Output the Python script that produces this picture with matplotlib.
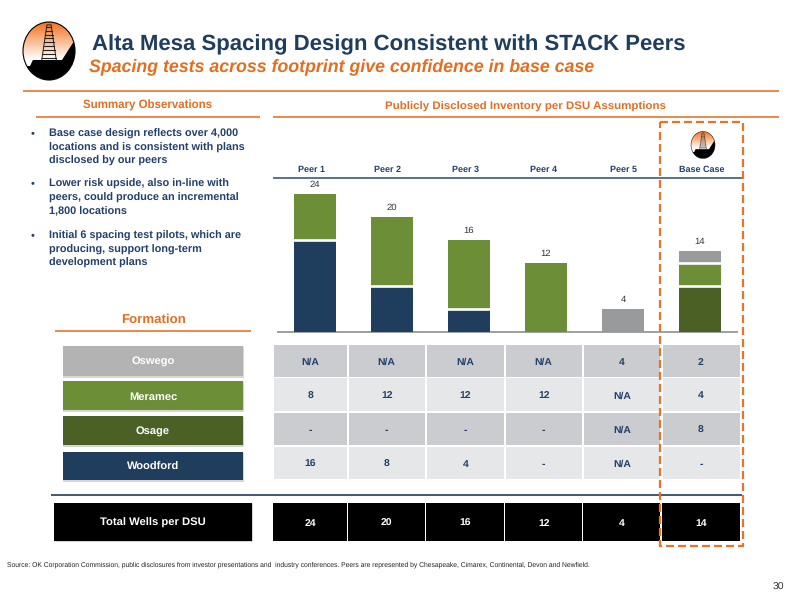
import numpy as np
import matplotlib
matplotlib.use('Agg')
import matplotlib.pyplot as plt
from matplotlib.patches import Rectangle, Ellipse, Polygon

plt.rcParams['font.family'] = ['Liberation Sans', 'DejaVu Sans']
plt.rcParams['text.hinting'] = 'no_hinting'

NAVY = '#1F3D5C'
ORANGE = '#E8742A'
TITLE_ORANGE = '#E26F21'
GREEN = '#6B8E37'
DARK_GREEN = '#4A6025'
GREY = '#999A9C'
TEXT_NAVY = '#23406A'

# data
peers = ['Peer 1', 'Peer 2', 'Peer 3', 'Peer 4', 'Peer 5', 'Base Case']
woodford = [16, 8, 4, 0, 0, 0]
osage = [0, 0, 0, 0, 0, 8]
meramec = [8, 12, 12, 12, 0, 4]
oswego = [0, 0, 0, 0, 4, 2]
totals = [24, 20, 16, 12, 4, 14]

formations = ['Oswego', 'Meramec', 'Osage', 'Woodford']
table_rows = [
    ['N/A', 'N/A', 'N/A', 'N/A', '4', '2'],
    ['8', '12', '12', '12', 'N/A', '4'],
    ['-', '-', '-', '-', 'N/A', '8'],
    ['16', '8', '4', '-', 'N/A', '-'],
]
bullets = [
    ['Base case design reflects over 4,000', 'locations and is consistent with plans', 'disclosed by our peers'],
    ['Lower risk upside, also in-line with', 'peers, could produce an incremental', '1,800 locations'],
    ['Initial 6 spacing test pilots, which are', 'producing, support long-term', 'development plans'],
]
source = ('Source: OK Corporation Commission, public disclosures from investor presentations and  industry '
          'conferences. Peers are represented by Chesapeake, Cimarex, Continental, Devon and Newfield.')

fig = plt.figure(figsize=(8, 6), dpi=100)

# page axes, pixel coordinates
page = fig.add_axes([0, 0, 1, 1], zorder=1)
page.set_xlim(0, 800)
page.set_ylim(600, 0)
page.axis('off')
page.patch.set_alpha(0)


def box(x0, y0, x1, y1, color, z=2):
    page.add_patch(Rectangle((x0, y0), x1 - x0, y1 - y0, facecolor=color, edgecolor='none', zorder=z))


def hline(x0, x1, y, color, lw):
    page.plot([x0, x1], [y, y], color=color, lw=lw, solid_capstyle='butt', zorder=3)


def logo(cx, cy, rx, ry, lw=0.8):
    clip = Ellipse((cx, cy), 2 * rx, 2 * ry, transform=page.transData, facecolor='none', edgecolor='none')
    page.add_patch(clip)
    grad = np.linspace(0, 1, 64).reshape(-1, 1)
    colors = np.zeros((64, 1, 3))
    start = np.array([0.95, 0.45, 0.12])
    end = np.array([1.0, 1.0, 1.0])
    colors[:, 0, :] = start + (end - start) * np.clip(grad * 1.55, 0, 1)
    im = page.imshow(colors, extent=[cx - rx, cx + rx, cy + ry, cy - ry], aspect='auto', zorder=4)
    im.set_clip_path(clip)
    ground = Polygon([(cx - rx, cy + 0.52 * ry), (cx - 0.73 * rx, cy + 0.52 * ry), (cx - 0.62 * rx, cy + 0.31 * ry),
                      (cx + 0.5 * rx, cy + 0.31 * ry), (cx + 0.92 * rx, cy - 0.28 * ry), (cx + rx, cy - 0.28 * ry),
                      (cx + rx, cy + ry), (cx - rx, cy + ry)],
                     facecolor='black', edgecolor='none', zorder=5)
    page.add_patch(ground)
    ground.set_clip_path(clip)
    # derrick
    base_y = cy + 0.31 * ry
    top_y = cy - 0.9 * ry
    page.plot([cx - 0.28 * rx, cx - 0.08 * rx, cx + 0.08 * rx, cx + 0.28 * rx], [base_y, top_y, top_y, base_y],
              color='#222222', lw=lw * 0.9, zorder=6)
    for t in np.linspace(0.05, 0.95, 9):
        half = (0.08 + 0.2 * t) * rx
        yy = top_y + (base_y - top_y) * t
        page.plot([cx - half, cx + half], [yy, yy], color='#222222', lw=lw, zorder=6)
    page.add_patch(Ellipse((cx, cy), 2 * rx, 2 * ry, facecolor='none', edgecolor='black', lw=lw, zorder=7))


logo(49, 51, 26, 29)
logo(703, 145, 12, 13.5, lw=0.35)
page.set_xlim(0, 800)
page.set_ylim(600, 0)

# headings
page.text(92, 44.5, 'Alta Mesa Spacing Design Consistent with STACK Peers', fontsize=15.97, fontweight='bold',
          color=NAVY, ha='left', va='center')
page.text(89, 66.5, 'Spacing tests across footprint give confidence in base case', fontsize=12.75, fontweight='bold',
          style='italic', color=TITLE_ORANGE, ha='left', va='center')
hline(23, 779, 90.7, ORANGE, 1.2)
page.text(148, 105.5, 'Summary Observations', fontsize=8.3, fontweight='bold', color=TITLE_ORANGE, ha='center', va='center')
page.text(525.5, 106.5, 'Publicly Disclosed Inventory per DSU Assumptions', fontsize=8.25, fontweight='bold',
          color=TITLE_ORANGE, ha='center', va='center')
hline(36, 260, 117, ORANGE, 1.2)
hline(273, 779, 117, ORANGE, 1.2)

# summary bullets
for y, lines in zip([133, 183, 235], bullets):
    page.text(31, y, '•', fontsize=8, color=TEXT_NAVY, ha='left', va='center')
    for k, line in enumerate(lines):
        page.text(49, y + 1 + k * 13.6, line, fontsize=7.85, fontweight='bold', color=TEXT_NAVY, ha='left', va='center')

# bars, in a value scale of their own
ax = fig.add_axes([277 / 800, 1 - 331.5 / 600, (738 - 277) / 800, 138 / 600], zorder=2)
ax.patch.set_alpha(0)
x = np.arange(len(peers))
bottom = np.zeros(len(peers))
for vals, color in [(woodford, NAVY), (osage, DARK_GREEN), (meramec, GREEN), (oswego, GREY)]:
    ax.bar(x, vals, width=0.558, bottom=bottom, color=color, edgecolor='none')
    bottom += np.array(vals)
    # white gap between stacked segments
    for i, (b, v) in enumerate(zip(bottom, vals)):
        if v > 0 and b < totals[i]:
            ax.plot([i - 0.3, i + 0.3], [b, b], color='white', lw=1.9, solid_capstyle='butt', zorder=3)
ax.set_xlim(-0.4935, 5.4935)
ax.set_ylim(0, 24)
ax.axis('off')
for i, tot in enumerate(totals):
    ax.annotate(str(tot), (i, tot), xytext=(0, 3.5), textcoords='offset points', ha='center', va='bottom',
                fontsize=6.8, color='#333333', annotation_clip=False)

hline(277, 738, 331.7, '#8C8F93', 1.2)
hline(273, 742, 178, '#3E5A78', 1.2)
centers = [311, 387, 466, 544, 623, 702]
for c, name in zip(centers, peers):
    page.text(c, 169.5, name, fontsize=6.5, fontweight='bold', color=TEXT_NAVY, ha='center', va='center')

# formation column
page.text(154, 320, 'Formation', fontsize=9.5, fontweight='bold', color=TITLE_ORANGE, ha='center', va='center')
hline(55, 251, 331, ORANGE, 1.2)
form_colors = ['#B3B3B3', GREEN, DARK_GREEN, NAVY]
form_y = [(346, 375.5), (381, 410), (416, 445), (451.5, 480)]
for name, color, (y0, y1) in zip(formations, form_colors, form_y):
    box(63, y0 + 1, 244, y1 + 2, '#D6D6D6', z=1.5)
    box(63, y0, 243, y1, color)
    page.text(153, (y0 + y1) / 2 + 1.5, name, fontsize=8, fontweight='bold', color='white', ha='center', va='center')

# table
col_edges = [(274, 347), (348.5, 425), (427, 504), (505.5, 582), (584, 660), (662.5, 739.5)]
row_edges = [(345, 376.5), (378, 411), (412.5, 445), (446.5, 479)]
row_colors = ['#CBCCD0', '#E6E7E9', '#CBCCD0', '#E6E7E9']
for row, (y0, y1), color in zip(table_rows, row_edges, row_colors):
    for val, (x0, x1) in zip(row, col_edges):
        box(x0, y0, x1, y1, color)
        page.text((x0 + x1) / 2, (y0 + y1) / 2 + 4, val, fontsize=7.5, fontweight='bold', color=TEXT_NAVY,
                  ha='center', va='baseline', zorder=4)

hline(51, 742, 494.5, NAVY, 1.2)

# totals row
box(55, 504, 253, 542, '#D6D6D6', z=1.5)
box(54, 503, 252, 540.5, 'black')
page.text(152.5, 523, 'Total Wells per DSU', fontsize=8.1, fontweight='bold', color='white', ha='center', va='center')
for tot, (x0, x1) in zip(totals, col_edges):
    box(x0 - 1, 503, x1, 541, 'black')
    page.text((x0 + x1) / 2, 526, str(tot), fontsize=7.5, fontweight='bold', color='white', ha='center', va='baseline',
              zorder=4)

# base case highlight
page.add_patch(Rectangle((660, 121.5), 83, 424.5, facecolor='none', edgecolor=ORANGE, lw=1.6, ls=(0, (3.6, 1.8)), zorder=8))

page.text(7, 565, source, fontsize=4.83, color='#222222', ha='left', va='center')
page.text(778, 587, '30', fontsize=7.5, color='#333333', ha='center', va='center')

fig.savefig('out.png', dpi=100, facecolor='white')
